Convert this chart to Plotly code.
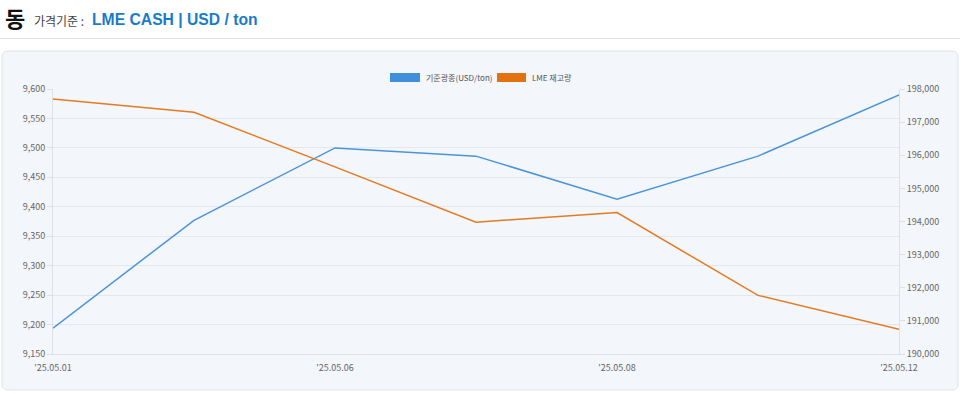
import plotly.graph_objects as go

dates = ["'25.05.01", "'25.05.02", "'25.05.06", "'25.05.07", "'25.05.08", "'25.05.09", "'25.05.12"]
price = [9194, 9377, 9500, 9486, 9413, 9486, 9590]
stock = [197700, 197300, 195650, 193980, 194270, 191770, 190750]
shown_ticks = ["'25.05.01", "'25.05.06", "'25.05.08", "'25.05.12"]
left_ticks = [9150, 9200, 9250, 9300, 9350, 9400, 9450, 9500, 9550, 9600]
right_ticks = [190000, 191000, 192000, 193000, 194000, 195000, 196000, 197000, 198000]
series_names = ["기준광종(USD/ton)", "LME 재고량"]
series_colors = ["#3f8fdd", "#e2720f"]
line_colors = ["#4a94dc", "#e57a22"]

W, H = 960, 394
L, R, T, B = 53, 899, 89, 354
pw, ph = R - L, B - T

def px(x):
    return (x - L) / pw

def py(y):
    return (B - y) / ph

fig = go.Figure()
fig.add_trace(go.Scatter(x=dates, y=price, name=series_names[0], mode="lines",
                         line=dict(color=line_colors[0], width=1.5), yaxis="y", showlegend=False))
fig.add_trace(go.Scatter(x=dates, y=stock, name=series_names[1], mode="lines",
                         line=dict(color=line_colors[1], width=1.5), yaxis="y2", showlegend=False))

# rounded box path in paper coords
x0, x1, y0, y1, r = 2, 958, 51, 390, 6
def P(x, y):
    return f"{px(x):.5f},{py(y):.5f}"
path = (f"M {P(x0+r,y0)} L {P(x1-r,y0)} Q {P(x1,y0)} {P(x1,y0+r)} "
        f"L {P(x1,y1-r)} Q {P(x1,y1)} {P(x1-r,y1)} L {P(x0+r,y1)} "
        f"Q {P(x0,y1)} {P(x0,y1-r)} L {P(x0,y0+r)} Q {P(x0,y0)} {P(x0+r,y0)} Z")

fig.add_shape(type="path", path=path, xref="paper", yref="paper",
              fillcolor="#f3f6fa", line=dict(color="#e0e4e9", width=1), layer="below")
fig.add_shape(type="line", xref="paper", yref="paper", x0=px(0), x1=px(960),
              y0=py(38.5), y1=py(38.5), line=dict(color="#e2e2e2", width=1))

# header
fig.add_annotation(xref="paper", yref="paper", x=px(3), y=py(17), xanchor="left", yanchor="middle",
                   text="<b>동</b>", showarrow=False,
                   font=dict(size=22, color="#111111", family="Noto Sans CJK KR"))
fig.add_annotation(xref="paper", yref="paper", x=px(32), y=py(20), xanchor="left", yanchor="middle",
                   text="가격기준 : ", showarrow=False,
                   font=dict(size=12, color="#444444", family="Noto Sans CJK KR"))
fig.add_annotation(xref="paper", yref="paper", x=px(90), y=py(19.5), xanchor="left", yanchor="middle",
                   text="<b>LME CASH | USD / ton</b>", showarrow=False,
                   font=dict(size=15.7, color="#1a7cc7", family="Liberation Sans"))

# legend (drawn manually: filled rectangles + labels)
legend_boxes = [(390, 420), (497, 526)]
legend_text_x = [424, 530]
for i in range(2):
    bx0, bx1 = legend_boxes[i]
    fig.add_shape(type="rect", xref="paper", yref="paper",
                  x0=px(bx0), x1=px(bx1), y0=py(82), y1=py(73),
                  fillcolor=series_colors[i], line=dict(width=0))
    fig.add_annotation(xref="paper", yref="paper", x=px(legend_text_x[i]), y=py(77.5),
                       xanchor="left", yanchor="middle", text=series_names[i], showarrow=False,
                       font=dict(size=8, color="#555555", family="Noto Sans CJK KR"))

tickfont = dict(size=9, color="#666666", family="Noto Sans CJK KR")
fig.update_layout(
    width=W, height=H,
    margin=dict(l=L, r=W - R, t=T, b=H - B, pad=0),
    paper_bgcolor="white",
    plot_bgcolor="#f3f6fa",
    showlegend=False,
    xaxis=dict(type="category", categoryorder="array", categoryarray=dates,
               range=[0, len(dates) - 1], tickvals=shown_ticks, ticktext=shown_ticks,
               showgrid=False, showline=True, linecolor="#dde1e6", linewidth=1,
               ticks="", ticklabelstandoff=5, tickfont=tickfont, zeroline=False),
    yaxis=dict(range=[9150, 9600], tickvals=left_ticks, tickformat=",d",
               showgrid=True, gridcolor="#e4e7eb", gridwidth=1,
               showline=True, linecolor="#dde1e6", ticks="outside", ticklen=5,
               tickcolor="#dde1e6", tickfont=tickfont, zeroline=False),
    yaxis2=dict(range=[190000, 198000], tickvals=right_ticks, tickformat=",d",
                overlaying="y", side="right", showgrid=False,
                showline=True, linecolor="#dde1e6", ticks="outside", ticklen=5,
                tickcolor="#dde1e6", tickfont=tickfont, zeroline=False),
)

fig.write_html("out.html", config={"displayModeBar": False},
               post_script="document.body.style.margin='0';document.body.style.overflow='hidden';")
